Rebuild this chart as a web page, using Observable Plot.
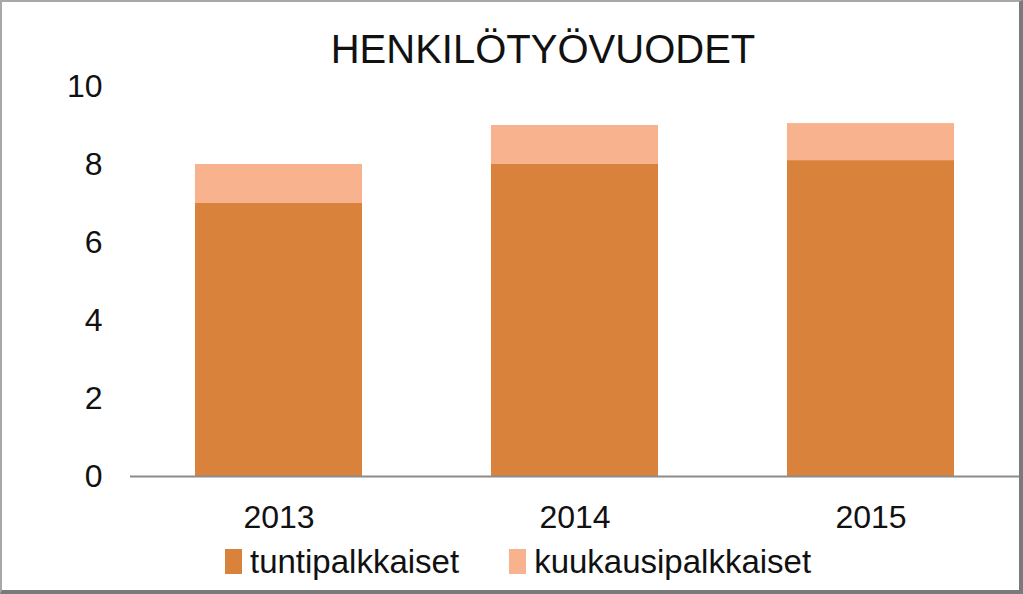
<!DOCTYPE html>
<html>
<head>
<meta charset="utf-8">
<script src="https://cdn.jsdelivr.net/npm/d3@7"></script>
<script src="https://cdn.jsdelivr.net/npm/@observablehq/plot@0.6"></script>
<style>
  html, body { margin: 0; padding: 0; background: #fff; }
  #wrap { position: relative; width: 1023px; height: 594px; overflow: hidden; font-family: "Liberation Sans", Arial, sans-serif; color: #111; }
  #title { height: 61px; box-sizing: border-box; padding-top: 37px; padding-left: 63px; line-height: 24px; font-size: 40px; text-align: center; white-space: nowrap; }
  #chart svg { display: block; overflow: visible; }
  #legend { height: 54px; box-sizing: border-box; padding-top: 5px; display: flex; align-items: flex-start; padding-left: 225px; font-size: 33px; line-height: 33px; white-space: nowrap; }
  .item { display: flex; align-items: flex-start; }
  .sw { width: 17px; height: 25px; margin-top: 4px; margin-right: 8px; }
  #frame { position: absolute; left: 0; top: 0; width: 1023px; height: 594px; box-sizing: border-box; border-left: 2px solid #a8a8a8; border-top: 2px solid #a8a8a8; border-right: 4px solid #7a7a7a; border-bottom: 4px solid #7a7a7a; pointer-events: none; }
</style>
</head>
<body>
<div id="wrap">
  <div id="title"></div>
  <div id="chart"></div>
  <div id="legend"></div>
  <div id="frame"></div>
</div>
<script>
const titleText = "HENKILÖTYÖVUODET";
const years = ["2013", "2014", "2015"];
const seriesNames = ["tuntipalkkaiset", "kuukausipalkkaiset"];
const tuntipalkkaiset = [7, 8, 8.1];
const kuukausipalkkaiset = [1, 1, 0.95];
const yTicks = [0, 2, 4, 6, 8, 10];
const colors = ["#d9823b", "#f8b38e"];

const rows = [];
years.forEach((y, i) => {
  rows.push({year: y, series: seriesNames[0], value: tuntipalkkaiset[i]});
  rows.push({year: y, series: seriesNames[1], value: kuukausipalkkaiset[i]});
});

document.getElementById("title").textContent = titleText;

const chart = Plot.plot({
  width: 1023,
  height: 479,
  marginTop: 25,
  marginBottom: 64,
  marginLeft: 130,
  marginRight: 4,
  style: {fontFamily: "'Liberation Sans', Arial, sans-serif", fontSize: "32px", color: "#111", background: "transparent", overflow: "visible"},
  x: {domain: years, paddingInner: 0.435, paddingOuter: 0.2175, label: null, tickSize: 0, tickPadding: 29},
  y: {domain: [0, 10], ticks: yTicks, label: null, tickSize: 0, tickPadding: 28},
  color: {domain: seriesNames, range: colors},
  marks: [
    Plot.barY(rows, {x: "year", y: "value", fill: "series", order: seriesNames}),
    Plot.ruleY([0], {stroke: "#8c8c8c", strokeWidth: 2})
  ]
});
document.getElementById("chart").appendChild(chart);

const legend = d3.select("#legend");
seriesNames.forEach((s, i) => {
  const it = legend.append("div").attr("class", "item").style("margin-right", i === 0 ? "50px" : "0px");
  it.append("div").attr("class", "sw").style("background", colors[i]);
  it.append("span").text(s);
});
</script>
</body>
</html>
